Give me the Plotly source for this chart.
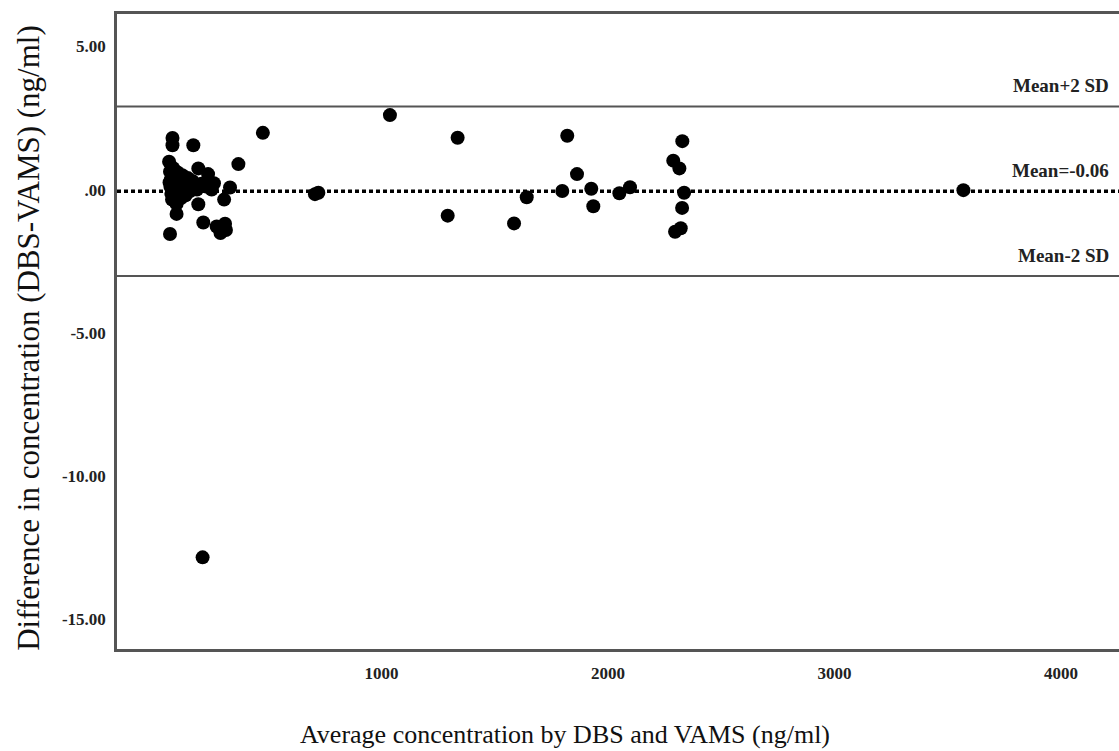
import plotly.graph_objects as go

# Average concentration (ng/ml) and difference (DBS - VAMS) (ng/ml)
avg_conc = [
    77, 77, 169, 476, 368, 62, 191, 234, 260, 331, 305, 191, 95, 66, 213, 272, 289, 313, 309,
    706, 721,
    66, 70, 68, 72, 75, 64, 80, 85, 88, 82, 90, 95, 100, 105, 110, 108, 115, 120, 125, 130,
    135, 145, 150, 155, 165, 175, 185, 205, 230, 250,
    210,
    1037, 1336, 1292, 1585, 1641, 1798, 1820, 1863, 1926, 1935, 2050, 2097,
    2288, 2315, 2328, 2336, 2327, 2296, 2321,
    3569,
]
diff_conc = [
    1.80, 1.55, 1.55, 1.98, 0.89, 0.97, 0.74, 0.54, 0.22, 0.07, -0.35, -0.51, -0.85, -1.55,
    -1.15, -1.29, -1.52, -1.41, -1.19,
    -0.16, -0.11,
    0.62, 0.35, 0.10, -0.15, -0.35, 0.25, 0.75, 0.45, 0.20, 0.0, -0.25, -0.50, 0.60, 0.30,
    0.10, -0.10, -0.30, 0.50, 0.25, 0.05, -0.20, 0.40, 0.15, -0.05, 0.30, 0.10, 0.0, 0.20,
    0.10, 0.0,
    -12.84,
    2.60, 1.81, -0.91, -1.18, -0.27, -0.05, 1.88, 0.54, 0.03, -0.58, -0.13, 0.08,
    1.01, 0.74, 1.69, -0.11, -0.64, -1.47, -1.35,
    -0.02,
]

mean_diff = -0.06
upper_loa = 2.90
lower_loa = -3.02

y_tickvals = [5, 0, -5, -10, -15]
y_ticktext = ["5.00", ".00", "-5.00", "-10.00", "-15.00"]
x_tickvals = [1000, 2000, 3000, 4000]
x_ticktext = ["1000", "2000", "3000", "4000"]

serif = "Liberation Serif, Times New Roman, serif"

fig = go.Figure()
fig.add_trace(go.Scatter(
    x=avg_conc, y=diff_conc, mode="markers",
    marker=dict(color="black", size=14, line=dict(width=0)),
    showlegend=False, hoverinfo="skip",
))

# reference lines
for val, color, dash, width in [
    (upper_loa, "#555555", "solid", 2),
    (lower_loa, "#555555", "solid", 2),
    (mean_diff, "black", "4px,3px", 3.5),
]:
    fig.add_shape(type="line", xref="paper", x0=0, x1=1, yref="y", y0=val, y1=val,
                  line=dict(color=color, width=width, dash=dash), layer="below")

labels = [
    (upper_loa, "Mean+2 SD"),
    (mean_diff, "Mean=%.2f" % mean_diff),
    (lower_loa, "Mean-2 SD"),
]
for val, txt in labels:
    fig.add_annotation(xref="paper", x=1, xanchor="right", xshift=-8,
                       yref="y", y=val, yanchor="middle", yshift=21,
                       text="<b>%s</b>" % txt, showarrow=False,
                       font=dict(family=serif, size=19, color="#222"))

# axis titles
fig.add_annotation(xref="paper", yref="paper", x=(565 - 117) / 1002, y=-0.135,
                   xanchor="center", yanchor="middle",
                   text="Average concentration by DBS and VAMS (ng/ml)",
                   showarrow=False, font=dict(family=serif, size=26, color="#111"))
fig.add_annotation(xref="paper", yref="paper", x=(29 - 117) / 1002, y=0.49,
                   xanchor="center", yanchor="middle", textangle=-90,
                   text="Difference in concentration (DBS-VAMS) (ng/ml)",
                   showarrow=False, font=dict(family=serif, size=31, color="#111"))

fig.update_layout(
    width=1119, height=751,
    margin=dict(l=117, r=0, t=14, b=102),
    paper_bgcolor="white", plot_bgcolor="white",
    xaxis=dict(range=[-168, 4256], tickvals=x_tickvals, ticktext=x_ticktext,
               showgrid=False, zeroline=False, showline=True, mirror=True,
               linecolor="#555555", linewidth=2.5, ticks="",
               ticklabelstandoff=7,
               tickfont=dict(family=serif, size=17, color="#222", weight="bold")),
    yaxis=dict(range=[-16.04, 6.13], tickvals=y_tickvals, ticktext=y_ticktext,
               showgrid=False, zeroline=False, showline=True, mirror=False,
               linecolor="#555555", linewidth=2.5, ticks="",
               ticklabelstandoff=5,
               tickfont=dict(family=serif, size=17, color="#222", weight="bold")),
)

fig.write_html("out.html")
